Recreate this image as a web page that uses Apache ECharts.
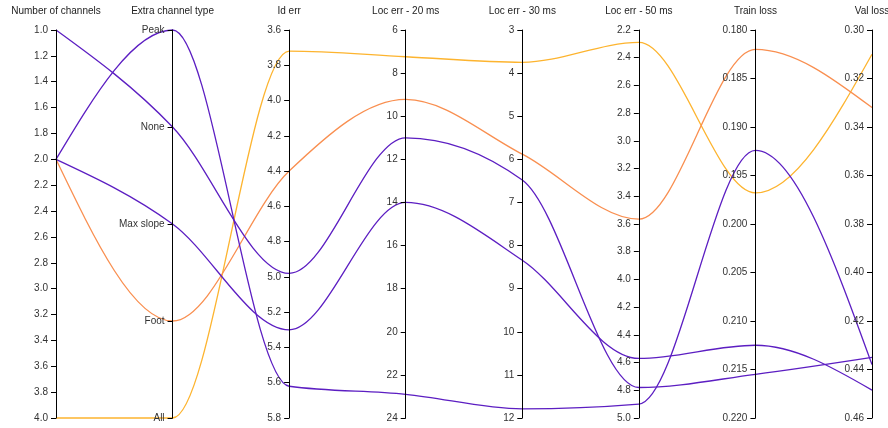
<!DOCTYPE html>
<html>
<head>
<meta charset="utf-8">
<script src="https://cdn.jsdelivr.net/npm/echarts@6/dist/echarts.min.js"></script>
<style>
  html, body { margin: 0; padding: 0; background: #fff; }
  #chart { width: 888px; height: 428px; }
</style>
</head>
<body>
<div id="chart"></div>
<script>
// Axis titles, left to right
const axisNames = ['Number of channels', 'Extra channel type', 'Id err', 'Loc err - 20 ms',
  'Loc err - 30 ms', 'Loc err - 50 ms', 'Train loss', 'Val loss'];

// Categories of the "Extra channel type" axis, top to bottom
const channelTypes = ['Peak', 'None', 'Max slope', 'Foot', 'All'];

// One entry per run
const numChannels = [4, 2, 1, 2, 2];
const extraType   = ['All', 'Foot', 'None', 'Peak', 'Max slope'];
const idErr       = [3.72, 4.40, 4.98, 5.62, 5.30];
const locErr20    = [7.24, 9.22, 11.0, 22.9, 14.0];
const locErr30    = [3.75, 5.88, 6.48, 11.79, 8.34];
const locErr50    = [2.29, 3.565, 4.78, 4.90, 4.57];
const trainLoss   = [0.1968, 0.1820, 0.2155, 0.1924, 0.2125];
const valLoss     = [0.310, 0.332, 0.435, 0.438, 0.4485];
const runColors   = ['#fdb42f', '#f98f50', '#5c1ec2', '#5c1ec2', '#5c1ec2'];

// Axis ranges: [min, max, interval, decimals]
const axisRanges = [
  [1.0, 4.0, 0.2, 1],
  null,
  [3.6, 5.8, 0.2, 1],
  [6, 24, 2, 0],
  [3, 12, 1, 0],
  [2.2, 5.0, 0.2, 1],
  [0.18, 0.22, 0.005, 3],
  [0.30, 0.46, 0.02, 2]
];

const rows = numChannels.map((n, i) => [
  n, extraType[i], idErr[i], locErr20[i], locErr30[i],
  locErr50[i], trainLoss[i], valLoss[i]
]);

const FONT = '"Liberation Sans", Arial, Helvetica, sans-serif';

const parallelAxis = axisNames.map((name, i) => {
  const base = { dim: i, name: name, inverse: true };
  if (i === 1) {
    return Object.assign(base, { type: 'category', data: channelTypes, boundaryGap: false });
  }
  const r = axisRanges[i];
  return Object.assign(base, {
    type: 'value', min: r[0], max: r[1], interval: r[2],
    axisLabel: { formatter: v => Number(v).toFixed(r[3]) }
  });
});

const chart = echarts.init(document.getElementById('chart'), null, { renderer: 'canvas' });

// Monotone cubic curve (monotone in x) through pixel points
function monotonePath(pts) {
  const n = pts.length;
  const t = new Array(n).fill(0);
  const slopes = [];
  for (let i = 0; i < n - 1; i++) {
    slopes.push((pts[i + 1][1] - pts[i][1]) / (pts[i + 1][0] - pts[i][0]));
  }
  for (let i = 1; i < n - 1; i++) {
    const h0 = pts[i][0] - pts[i - 1][0], h1 = pts[i + 1][0] - pts[i][0];
    const s0 = slopes[i - 1], s1 = slopes[i];
    const p = (s0 * h1 + s1 * h0) / (h0 + h1);
    t[i] = (Math.sign(s0) + Math.sign(s1)) *
      Math.min(Math.abs(s0), Math.abs(s1), 0.5 * Math.abs(p)) || 0;
  }
  if (n > 1) {
    t[0] = (3 * slopes[0] - t[1]) / 2;
    t[n - 1] = (3 * slopes[n - 2] - t[n - 2]) / 2;
  }
  let d = 'M' + pts[0][0] + ',' + pts[0][1];
  for (let i = 0; i < n - 1; i++) {
    const dx = (pts[i + 1][0] - pts[i][0]) / 3;
    d += 'C' + (pts[i][0] + dx) + ',' + (pts[i][1] + dx * t[i]) + ' ' +
      (pts[i + 1][0] - dx) + ',' + (pts[i + 1][1] - dx * t[i + 1]) + ' ' +
      pts[i + 1][0] + ',' + pts[i + 1][1];
  }
  return d;
}

function renderRun(params, api) {
  const coordSys = chart.getModel().getComponent('parallel', 0).coordinateSystem;
  const row = rows[params.dataIndex];
  const pts = row.map((v, k) => {
    const value = k === 1 ? channelTypes.indexOf(v) : v;
    return coordSys.dataToPoint(value, 'dim' + k);
  });
  return {
    type: 'path',
    shape: { pathData: monotonePath(pts) },
    style: { stroke: runColors[params.dataIndex], fill: 'none', lineWidth: 1.3 },
    silent: true
  };
}

chart.setOption({
  animation: false,
  textStyle: { fontFamily: FONT },
  parallel: {
    left: 56, right: 16, top: 30, bottom: 10,
    parallelAxisDefault: {
      nameLocation: 'start',
      nameGap: 14,
      nameTextStyle: { fontSize: 10, color: '#222', fontFamily: FONT },
      axisLine: { lineStyle: { color: '#000', width: 1 } },
      // ticks and labels sit on the left of each axis
      axisTick: { length: -5, lineStyle: { color: '#000' } },
      axisLabel: { margin: -8, align: 'right', fontSize: 10, color: '#333', fontFamily: FONT },
      splitLine: { show: false }
    }
  },
  parallelAxis: parallelAxis,
  series: [{
    // Carries the runs so the parallel axes get their scales; drawn invisibly
    type: 'parallel',
    data: rows,
    lineStyle: { opacity: 0 },
    silent: true
  }, {
    // The run curves, placed with the parallel coordinate system
    type: 'custom',
    coordinateSystem: 'none',
    data: rows.map((r, i) => i),
    renderItem: renderRun,
    z: 10
  }]
});
</script>
</body>
</html>
